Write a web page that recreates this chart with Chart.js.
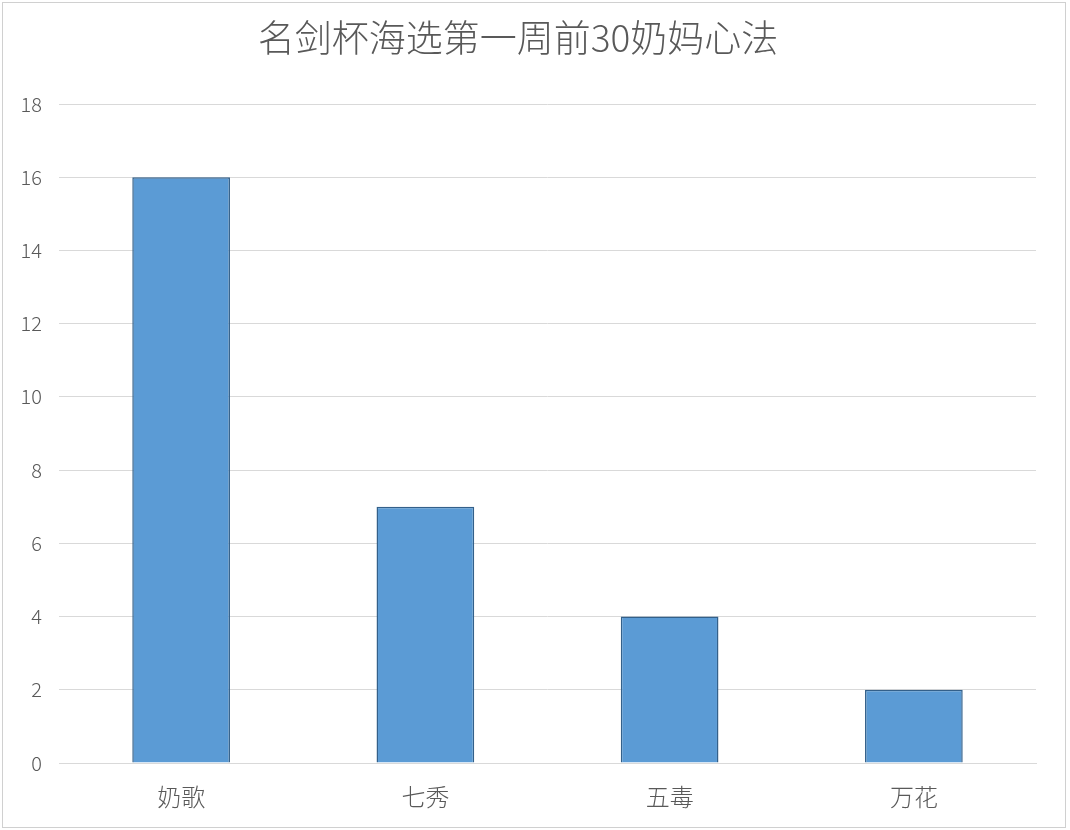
<!DOCTYPE html>
<html>
<head>
<meta charset="utf-8">
<script src="https://cdn.jsdelivr.net/npm/chart.js@4.4.1/dist/chart.umd.min.js"></script>
<style>
  body { margin: 0; background: #fff; }
  #wrap { position: relative; width: 1070px; height: 830px; }
  #frame { position: absolute; left: 2px; top: 2px; width: 1062px; height: 824px; border: 1px solid #d0d0d0; }
  canvas { position: absolute; left: 0; top: 0; }
</style>
</head>
<body>
<div id="wrap">
  <div id="frame"></div>
  <canvas id="grafico" width="1070" height="830"></canvas>
</div>
<script>
// 名剑杯海选第一周前30 - 奶妈心法
const titulo = "名剑杯海选第一周前30奶妈心法";
const categorias = ["奶歌", "七秀", "五毒", "万花"];
const valores = [16, 7, 4, 2];
const yMax = 18;
const yPasso = 2;

const fonte = '"Noto Sans CJK SC", "Noto Sans", sans-serif';

new Chart(document.getElementById("grafico"), {
  type: "bar",
  data: {
    labels: categorias,
    datasets: [{
      label: titulo,
      data: valores,
      backgroundColor: "#5b9bd5",
      borderColor: "#33608a",
      borderWidth: 1.5,
      barPercentage: 0.4,
      categoryPercentage: 1
    }]
  },
  options: {
    responsive: false,
    animation: false,
    layout: { padding: { left: 0, right: 34, top: 0, bottom: 0 } },
    plugins: {
      legend: { display: false },
      tooltip: { enabled: false },
      title: {
        display: true,
        text: titulo,
        color: "#595959",
        font: { family: fonte, size: 37, weight: "300", lineHeight: 1.2 },
        padding: { top: 16, bottom: 43.6 }
      }
    },
    scales: {
      x: {
        grid: { display: false },
        border: { color: "#d9d9d9" },
        ticks: {
          color: "#595959",
          padding: 11,
          font: { family: fonte, size: 24, weight: "300" }
        },
        afterFit: (escala) => { escala.height = 67; }
      },
      y: {
        min: 0,
        max: yMax,
        grid: { color: "#d9d9d9", drawTicks: false },
        border: { display: false },
        ticks: {
          stepSize: yPasso,
          color: "#595959",
          padding: 17,
          font: { family: fonte, size: 20, weight: "300" }
        },
        afterFit: (escala) => { escala.width = 59; }
      }
    }
  }
});
</script>
</body>
</html>
